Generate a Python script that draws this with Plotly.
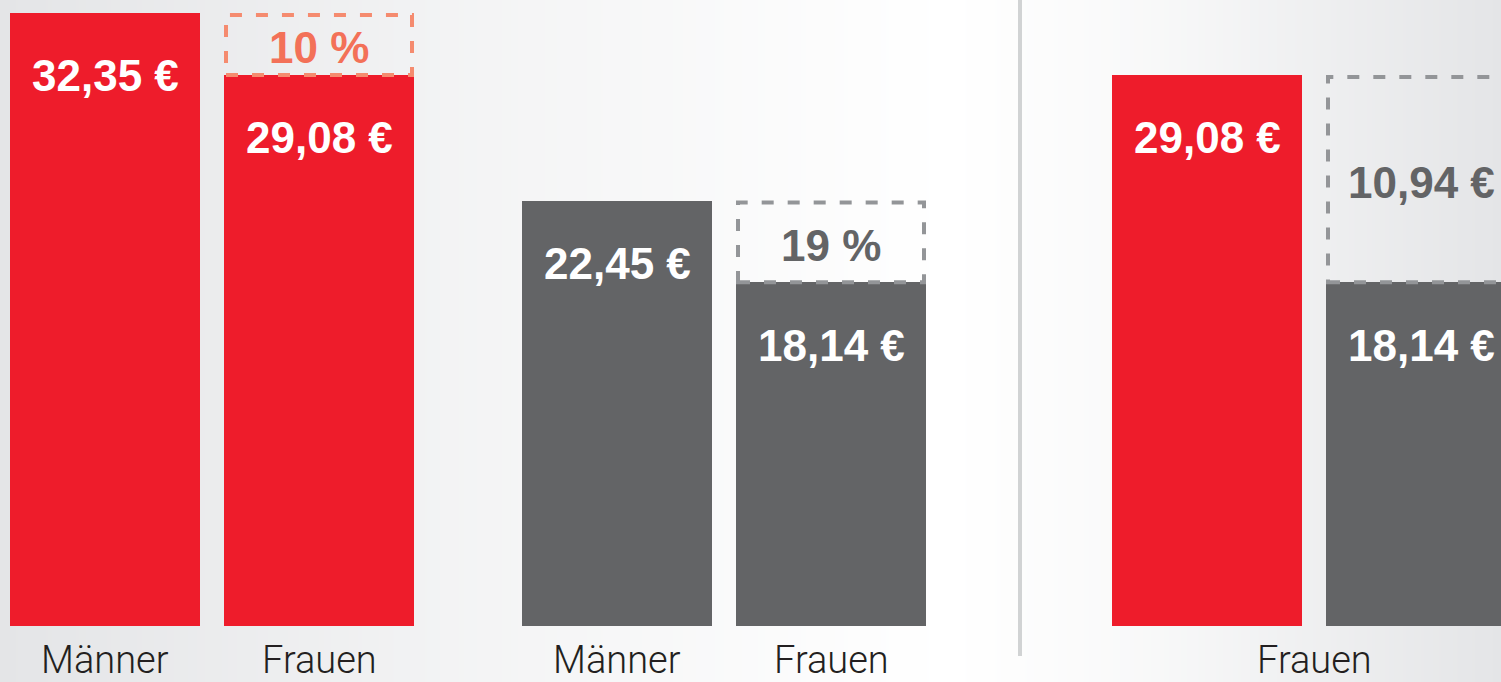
import plotly.graph_objects as go

# ---------------- data ----------------
categories = ["Männer", "Frauen", "Männer", "Frauen", "Männer", "Frauen"]
values = [32.35, 29.08, 22.45, 18.14, 29.08, 18.14]
value_labels = ["32,35 €", "29,08 €", "22,45 €", "18,14 €", "29,08 €", "18,14 €"]
bar_colors = ["#ee1c2b", "#ee1c2b", "#636466", "#636466", "#ee1c2b", "#636466"]

# gap boxes: lower bar index, upper value taken from bar index, label
gap_lower = [1, 3, 5]
gap_upper = [0, 2, 4]
gap_labels = ["10 %", "19 %", "10,94 €"]
gap_line_colors = ["#f58b6f", "#939598", "#939598"]
gap_text_colors = ["#f37158", "#636466", "#636466"]

# category labels drawn below (index groups)
axis_labels = ["Männer", "Frauen", "Männer", "Frauen", "Frauen"]
axis_label_groups = [[0], [1], [2], [3], [4, 5]]

# background tone stops (0 = light grey, 1 = white)
bg_stop_x = [0, 450, 950, 1150, 1501]
bg_stop_level = [0.0, 0.55, 1.0, 0.75, 0.0]

# ---------------- layout constants ----------------
W, H = 1501, 682
BASE_PX = 626            # baseline pixel from top
PX_PER_EURO = 18.95
bar_centers = [105, 319, 617, 831, 1207, 1421]
BAR_W = 190
y_min = -(H - BASE_PX) / PX_PER_EURO
y_max = BASE_PX / PX_PER_EURO
px_y = 1 / PX_PER_EURO

fig = go.Figure()

# background gradient (heatmap layer sits below bars)
fig.add_trace(go.Heatmap(
    x=bg_stop_x, y=[y_min - 1, y_max + 1], z=[bg_stop_level, bg_stop_level],
    zsmooth="best", showscale=False, hoverinfo="skip",
    colorscale=[[0, "#e4e5e7"], [1, "#ffffff"]], zmin=0, zmax=1,
))

fig.add_trace(go.Bar(
    x=bar_centers, y=values, width=BAR_W,
    marker=dict(color=bar_colors, line=dict(width=0)),
    hoverinfo="skip", showlegend=False,
))

VAL_FONT = "Liberation Sans, Arial, sans-serif"

# value labels inside bars
for xc, v, lab in zip(bar_centers, values, value_labels):
    fig.add_annotation(x=xc, y=v, text=f"<b>{lab}</b>", showarrow=False,
                       yanchor="middle", yshift=-63,
                       font=dict(family=VAL_FONT, size=44, color="white"))

# dashed gap boxes
inset = 2
for lo, up, lab, lc, tc in zip(gap_lower, gap_upper, gap_labels, gap_line_colors, gap_text_colors):
    xc = bar_centers[lo]
    x0 = xc - BAR_W / 2 + inset
    x1 = xc + BAR_W / 2 - inset
    y0 = values[lo]
    y1 = values[up] - inset * px_y
    fig.add_shape(type="rect", x0=x0, x1=x1, y0=y0, y1=y1,
                  line=dict(color=lc, width=4, dash="12px,14px"),
                  fillcolor="rgba(0,0,0,0)", layer="above")
    fig.add_annotation(x=xc, y=(y0 + y1) / 2, text=f"<b>{lab}</b>", showarrow=False,
                       yanchor="middle", yshift=-3,
                       font=dict(family=VAL_FONT, size=44, color=tc))

# category labels
for lab, grp in zip(axis_labels, axis_label_groups):
    xc = sum(bar_centers[i] for i in grp) / len(grp)
    fig.add_annotation(x=xc, y=0, text=lab, showarrow=False,
                       yanchor="middle", yshift=-34,
                       font=dict(family="Roboto, Liberation Sans, sans-serif",
                                 size=38, color="#231f20", weight=300))

# divider line
fig.add_shape(type="line", x0=1020, x1=1020, y0=y_max, y1=-(656 - BASE_PX) / PX_PER_EURO,
              line=dict(color="#d1d3d4", width=4))

fig.update_layout(
    width=W, height=H,
    margin=dict(l=0, r=0, t=0, b=0),
    paper_bgcolor="white", plot_bgcolor="rgba(0,0,0,0)",
    xaxis=dict(range=[0, W], visible=False, fixedrange=True),
    yaxis=dict(range=[y_min, y_max], visible=False, fixedrange=True),
    bargap=0,
)

fig.write_html("out.html", config={"displayModeBar": False},
               post_script="document.body.style.margin='0';")
